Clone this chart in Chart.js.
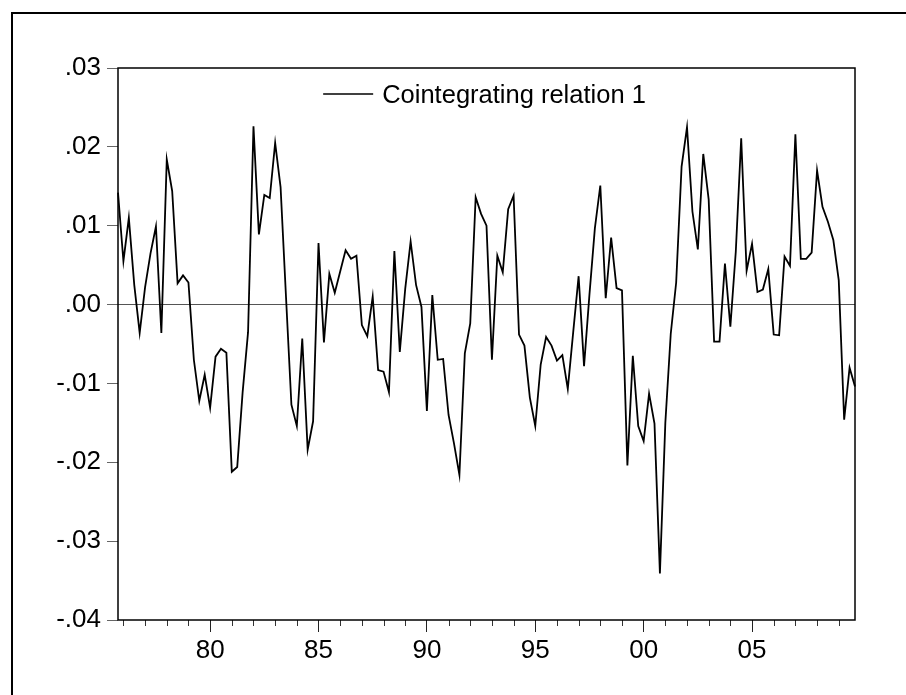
<!DOCTYPE html>
<html>
<head>
<meta charset="utf-8">
<script src="https://cdn.jsdelivr.net/npm/chart.js@4.4.1/dist/chart.umd.min.js"></script>
<style>
  html, body { margin: 0; padding: 0; background: #fff; overflow: hidden; }
  #wrap { position: relative; width: 906px; height: 695px; overflow: hidden; }
  #frame { position: absolute; left: 11px; top: 12px; width: 1000px; height: 1000px;
           border-left: 2px solid #000; border-top: 2px solid #000; }
  canvas { position: absolute; left: 0; top: 0; }
</style>
</head>
<body>
<div id="wrap">
  <div id="frame"></div>
  <canvas id="chart" width="906" height="695"></canvas>
</div>
<script>
// --- data: quarterly, 1975Q4 .. 2009Q4 ---
const seriesName = "Cointegrating relation 1";
const firstYear = 1975, firstQuarter = 4, lastYear = 2009, lastQuarter = 4;

const relation1 = [
  0.0142, 0.0055, 0.0110, 0.0025, -0.0036, 0.0022, 0.0065, 0.0099, -0.0036, 0.0184,
  0.0144, 0.0027, 0.0037, 0.0028, -0.0070, -0.0122, -0.0089, -0.0131, -0.0066, -0.0056,
  -0.0061, -0.0212, -0.0206, -0.0111, -0.0035, 0.0226, 0.0089, 0.0139, 0.0135, 0.0205,
  0.0149, 0.0010, -0.0127, -0.0154, -0.0043, -0.0184, -0.0148, 0.0078, -0.0048, 0.0039,
  0.0015, 0.0042, 0.0069, 0.0058, 0.0062, -0.0026, -0.0040, 0.0010, -0.0083, -0.0085,
  -0.0111, 0.0068, -0.0060, 0.0020, 0.0080, 0.0025, -0.0003, -0.0135, 0.0012, -0.0070,
  -0.0069, -0.0140, -0.0176, -0.0216, -0.0062, -0.0024, 0.0136, 0.0115, 0.0100, -0.0070,
  0.0062, 0.0041, 0.0121, 0.0138, -0.0038, -0.0052, -0.0118, -0.0154, -0.0076, -0.0041,
  -0.0052, -0.0071, -0.0064, -0.0107, -0.0035, 0.0036, -0.0078, 0.0013, 0.0097, 0.0151,
  0.0008, 0.0085, 0.0021, 0.0018, -0.0204, -0.0065, -0.0154, -0.0173, -0.0113, -0.0151,
  -0.0341, -0.0150, -0.0037, 0.0028, 0.0175, 0.0225, 0.0118, 0.0070, 0.0191, 0.0133,
  -0.0047, -0.0047, 0.0052, -0.0028, 0.0067, 0.0211, 0.0043, 0.0077, 0.0016, 0.0019,
  0.0045, -0.0038, -0.0039, 0.0061, 0.0049, 0.0216, 0.0058, 0.0058, 0.0066, 0.0170,
  0.0124, 0.0105, 0.0082, 0.0031, -0.0146, -0.0080, -0.0104
];

const yMin = -0.04, yMax = 0.03, yStep = 0.01;
const labelEveryYears = 5;

// quarter labels like "1980Q1"
const quarters = [];
for (let y = firstYear, q = firstQuarter; y < lastYear || (y === lastYear && q <= lastQuarter); ) {
  quarters.push(y + "Q" + q);
  q++;
  if (q > 4) { q = 1; y++; }
}

function yearOf(lbl) { return parseInt(lbl.slice(0, 4), 10); }
function isQ1(lbl) { return lbl.endsWith("Q1"); }
function isMajor(lbl) { return isQ1(lbl) && yearOf(lbl) % labelEveryYears === 0; }

function fmtY(v) {
  const s = (Math.round(v * 100) / 100).toFixed(2);
  return s.replace(/^(-?)0\./, "$1.");
}

const FONT = "'Liberation Sans', Arial, Helvetica, sans-serif";
Chart.defaults.font.family = FONT;
Chart.defaults.font.size = 26;
Chart.defaults.color = "#000";

// plot frame + minor year ticks + legend drawn inside the plot
const eviewsBits = {
  id: "eviewsBits",
  afterDraw(chart) {
    const ctx = chart.ctx;
    const a = chart.chartArea;
    const xs = chart.scales.x;
    ctx.save();

    // minor ticks (every year)
    ctx.strokeStyle = "#333";
    ctx.lineWidth = 1;
    quarters.forEach((lbl, i) => {
      if (isQ1(lbl) && !isMajor(lbl)) {
        const x = Math.round(xs.getPixelForValue(i)) + 0.5;
        ctx.beginPath();
        ctx.moveTo(x, a.bottom);
        ctx.lineTo(x, a.bottom + 6);
        ctx.stroke();
      }
    });

    // frame
    ctx.strokeStyle = "#000";
    ctx.lineWidth = 1.5;
    ctx.strokeRect(a.left, a.top, a.right - a.left, a.bottom - a.top);

    // legend
    const ds = chart.data.datasets[0];
    ctx.font = "25.5px " + FONT;
    const tw = ctx.measureText(ds.label).width;
    const sample = 50, gap = 9;
    const x0 = (a.left + a.right) / 2 - (sample + gap + tw) / 2 - 2;
    const ly = a.top + 26;
    ctx.strokeStyle = ds.borderColor;
    ctx.lineWidth = 1.5;
    ctx.beginPath();
    ctx.moveTo(x0, ly);
    ctx.lineTo(x0 + sample, ly);
    ctx.stroke();
    ctx.fillStyle = "#000";
    ctx.textBaseline = "middle";
    ctx.textAlign = "left";
    ctx.fillText(ds.label, x0 + sample + gap, ly + 2);

    ctx.restore();
  }
};

new Chart(document.getElementById("chart"), {
  type: "line",
  data: {
    labels: quarters,
    datasets: [{
      label: seriesName,
      data: relation1,
      borderColor: "#000",
      borderWidth: 1.8,
      pointRadius: 0,
      tension: 0,
      fill: false
    }]
  },
  options: {
    responsive: false,
    animation: false,
    layout: { padding: { top: 68, right: 51, left: 0, bottom: 0 } },
    plugins: {
      legend: { display: false },
      tooltip: { enabled: false }
    },
    scales: {
      x: {
        type: "category",
        offset: false,
        border: { display: false },
        grid: {
          drawOnChartArea: false,
          tickLength: 12,
          tickColor: (c) => (c.tick && c.tick.label ? "#222" : "transparent")
        },
        ticks: {
          autoSkip: false,
          maxRotation: 0,
          padding: 3,
          callback: function (v, i) {
            const lbl = quarters[i];
            return isMajor(lbl) ? String(yearOf(lbl) % 100).padStart(2, "0") : "";
          }
        },
        afterFit: (s) => { s.height = 75; }
      },
      y: {
        min: yMin,
        max: yMax,
        border: { display: false },
        grid: {
          tickLength: 11,
          tickColor: "#666",
          lineWidth: 1,
          color: (c) => (c.tick && Math.abs(c.tick.value) < 1e-9 ? "#555" : "transparent")
        },
        ticks: {
          stepSize: yStep,
          padding: 6,
          callback: (v) => fmtY(v)
        },
        afterFit: (s) => { s.width = 118; }
      }
    }
  },
  plugins: [eviewsBits]
});
</script>
</body>
</html>
